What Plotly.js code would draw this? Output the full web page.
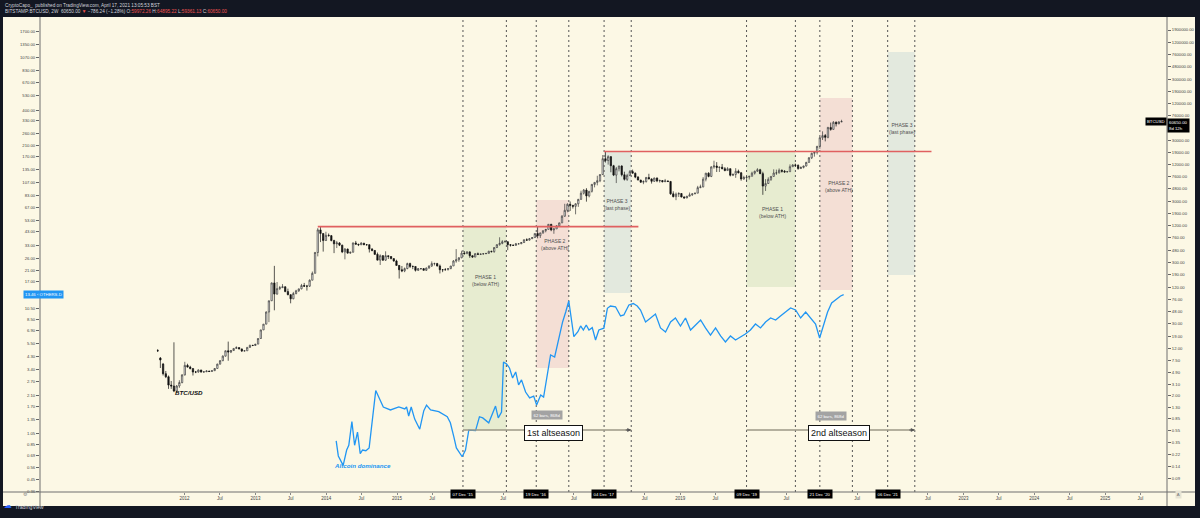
<!DOCTYPE html>
<html><head><meta charset="utf-8">
<script src="https://cdn.plot.ly/plotly-3.0.1.min.js"></script>
<style>html,body{margin:0;padding:0;background:#131722;}#chart{width:1200px;height:518px;}</style>
</head><body><div id="chart"></div>
<script>
// ---- BTC/USD 2W candles (Bitstamp) ----
const barDates = [
'2011-08-15','2011-08-29','2011-09-12','2011-09-26','2011-10-10','2011-10-24','2011-11-07','2011-11-21','2011-12-05','2011-12-19',
'2012-01-02','2012-01-16','2012-01-30','2012-02-13','2012-02-27','2012-03-12','2012-03-26','2012-04-09','2012-04-23','2012-05-07','2012-05-21','2012-06-04','2012-06-18','2012-07-02','2012-07-16','2012-07-30','2012-08-13','2012-08-27','2012-09-10','2012-09-24','2012-10-08','2012-10-22','2012-11-05','2012-11-19','2012-12-03','2012-12-17','2012-12-31',
'2013-01-14','2013-01-28','2013-02-11','2013-02-25','2013-03-11','2013-03-25','2013-04-08','2013-04-22','2013-05-06','2013-05-20','2013-06-03','2013-06-17','2013-07-01','2013-07-15','2013-07-29','2013-08-12','2013-08-26','2013-09-09','2013-09-23','2013-10-07','2013-10-21','2013-11-04','2013-11-18','2013-12-02','2013-12-16','2013-12-30',
'2014-01-13','2014-01-27','2014-02-10','2014-02-24','2014-03-10','2014-03-24','2014-04-07','2014-04-21','2014-05-05','2014-05-19','2014-06-02','2014-06-16','2014-06-30','2014-07-14','2014-07-28','2014-08-11','2014-08-25','2014-09-08','2014-09-22','2014-10-06','2014-10-20','2014-11-03','2014-11-17','2014-12-01','2014-12-15','2014-12-29',
'2015-01-12','2015-01-26','2015-02-09','2015-02-23','2015-03-09','2015-03-23','2015-04-06','2015-04-20','2015-05-04','2015-05-18','2015-06-01','2015-06-15','2015-06-29','2015-07-13','2015-07-27','2015-08-10','2015-08-24','2015-09-07','2015-09-21','2015-10-05','2015-10-19','2015-11-02','2015-11-16','2015-11-30','2015-12-14','2015-12-28',
'2016-01-11','2016-01-25','2016-02-08','2016-02-22','2016-03-07','2016-03-21','2016-04-04','2016-04-18','2016-05-02','2016-05-16','2016-05-30','2016-06-13','2016-06-27','2016-07-11','2016-07-25','2016-08-08','2016-08-22','2016-09-05','2016-09-19','2016-10-03','2016-10-17','2016-10-31','2016-11-14','2016-11-28','2016-12-12','2016-12-26',
'2017-01-09','2017-01-23','2017-02-06','2017-02-20','2017-03-06','2017-03-20','2017-04-03','2017-04-17','2017-05-01','2017-05-15','2017-05-29','2017-06-12','2017-06-26','2017-07-10','2017-07-24','2017-08-07','2017-08-21','2017-09-04','2017-09-18','2017-10-02','2017-10-16','2017-10-30','2017-11-13','2017-11-27','2017-12-11','2017-12-25',
'2018-01-08','2018-01-22','2018-02-05','2018-02-19','2018-03-05','2018-03-19','2018-04-02','2018-04-16','2018-04-30','2018-05-14','2018-05-28','2018-06-11','2018-06-25','2018-07-09','2018-07-23','2018-08-06','2018-08-20','2018-09-03','2018-09-17','2018-10-01','2018-10-15','2018-10-29','2018-11-12','2018-11-26','2018-12-10','2018-12-24',
'2019-01-07','2019-01-21','2019-02-04','2019-02-18','2019-03-04','2019-03-18','2019-04-01','2019-04-15','2019-04-29','2019-05-13','2019-05-27','2019-06-10','2019-06-24','2019-07-08','2019-07-22','2019-08-05','2019-08-19','2019-09-02','2019-09-16','2019-09-30','2019-10-14','2019-10-28','2019-11-11','2019-11-25','2019-12-09','2019-12-23',
'2020-01-06','2020-01-20','2020-02-03','2020-02-17','2020-03-02','2020-03-16','2020-03-30','2020-04-13','2020-04-27','2020-05-11','2020-05-25','2020-06-08','2020-06-22','2020-07-06','2020-07-20','2020-08-03','2020-08-17','2020-08-31','2020-09-14','2020-09-28','2020-10-12','2020-10-26','2020-11-09','2020-11-23','2020-12-07','2020-12-21',
'2021-01-04','2021-01-18','2021-02-01','2021-02-15','2021-03-01','2021-03-15','2021-03-29','2021-04-12'];

const btcOpen = [
11.0,8.3,6.6,4.6,4.1,3.0,2.9,2.4,2.9,3.3,
4.4,6.3,5.9,5.6,4.9,4.9,5.3,4.9,4.95,5.1,
5.0,5.15,5.6,6.6,7.5,8.9,10.9,10.4,11.0,11.9,
12.3,11.7,10.8,10.9,12.4,13.4,13.3,14.0,17.3,23.9,
29.7,46.9,71.5,140,92,113,117,121,101,90,
77,94,104,112,127,124,124,155,201,440,
1030,900,690,840,830,690,610,630,580,450,
500,430,445,630,600,590,625,590,590,500,
475,410,330,390,330,390,378,350,320,270,
230,220,240,290,260,260,225,240,240,225,
245,265,290,290,265,230,230,230,240,265,
320,335,360,430,420,450,390,370,420,410,
415,420,425,460,455,530,590,620,660,660,
590,580,575,610,610,640,710,700,740,770,
900,830,920,1000,1050,1270,1030,1070,1200,1340,
1720,2150,2700,2600,2500,2750,3250,4100,4600,3700,
4400,5700,6150,6550,8250,15000,14000,16200,11500,8100,
10300,11400,8200,6900,8000,9250,8700,7500,6700,6200,
6350,7400,7000,6400,7250,6500,6600,6300,6500,6350,
4000,3600,3950,4050,3550,3420,3650,3850,4000,4100,
5050,5200,6950,8700,7700,11000,11400,10800,10900,10300,
9600,10300,8050,8300,9350,8800,7000,7400,7500,7750,
8700,9350,9900,8550,5350,5900,6900,7700,8750,8800,
9700,9350,9100,9200,11100,11850,11700,10350,10800,11400,
13050,15500,18400,19150,23900,33000,35800,33500,48600,45200,
59000,55800,59972.26];

const btcHigh = [
11.6,8.6,6.9,5.1,4.3,3.5,15.0,3.0,3.6,4.5,
7.2,6.7,6.2,5.6,5.1,5.4,5.3,5.0,5.2,5.1,
5.2,5.7,6.7,7.7,9.2,11.0,15.4,11.2,12.0,12.9,
12.4,11.8,11.1,12.5,13.7,13.6,14.1,17.5,24.0,29.8,
48.0,72.0,142,266,145,125,134,123,113,91,
100,108,113,135,140,130,160,215,450,1100,
1163,900,960,900,850,710,680,650,590,520,
510,450,640,680,610,650,630,600,595,520,
480,440,410,400,460,390,385,350,335,275,
265,250,300,300,270,260,245,245,242,250,
270,315,300,298,280,235,245,245,265,330,
500,370,470,465,460,460,395,430,440,420,
425,430,470,470,540,600,780,700,700,665,
600,590,630,615,650,720,750,760,780,900,
1150,920,1010,1060,1280,1290,1080,1230,1350,1800,
2750,2800,3000,2600,2800,3300,4500,4800,4950,4400,
5800,6200,7900,8400,17200,19666,17100,16500,11900,11000,
11500,11700,9200,8500,9750,9950,8900,7800,6800,6650,
7550,8500,7150,7350,7400,6850,6700,7000,6600,6500,
4400,4200,4250,4100,3650,3700,4200,4000,4150,5400,
5650,7500,8800,9000,11300,13900,13200,11100,12300,10950,
10900,10350,8600,10500,9950,9100,7900,7750,7800,9200,
9550,10500,10250,9200,6950,7450,7800,10050,9950,10400,
10000,9800,9450,12100,12150,12450,12100,11200,11500,13300,
15950,18800,19900,24200,34000,42000,38000,49700,58350,61800,
61000,61200,64895.22];

const btcLow = [
10.4,5.7,4.3,3.9,2.6,2.6,2.3,2.2,2.7,3.2,
4.3,5.8,5.4,4.3,4.7,4.8,4.8,4.8,4.9,4.9,
5.0,5.1,5.6,6.5,7.4,8.8,7.5,10.0,10.9,11.8,
11.5,10.4,10.7,10.9,12.2,13.0,13.2,14.0,17.2,23.8,
29.5,32.0,71,50,90,107,116,99,88,65,
76,91,100,110,120,105,120,155,201,380,
650,455,680,800,670,430,520,560,430,340,
420,420,440,600,560,580,580,570,440,460,
400,330,275,320,320,345,340,310,270,165,
210,210,235,245,235,215,220,230,225,220,
240,255,270,260,200,210,225,225,235,265,
300,310,355,410,420,360,360,370,400,400,
410,415,425,440,435,520,570,600,650,480,
550,570,570,595,605,630,690,690,730,765,
750,760,890,940,1050,980,890,1070,1180,1340,
1700,2000,2100,2300,1850,2450,3200,3900,2980,3500,
4200,5100,5500,6200,8200,13000,12000,9000,7800,6000,
9300,7700,6600,6500,7800,8600,7200,6700,6050,5750,
6100,6900,5880,6300,6200,6100,6150,6250,6250,3850,
3500,3150,3550,3500,3350,3400,3650,3700,3950,4100,
4950,5100,6400,7450,7500,10300,9100,9100,10050,9350,
9600,7700,7800,7300,8650,6550,6800,6430,6850,7700,
8250,9150,8400,3850,4450,5850,6500,7650,8150,8600,
8900,8850,9050,9150,11100,11150,9900,10200,10400,11200,
12900,14800,16200,17600,21800,30300,28800,32300,43000,45000,
50400,54900,59361.13];

const btcClose = [
10.9,7.7,4.6,4.1,3.0,2.9,2.4,2.9,3.3,4.4,
6.3,5.9,5.6,4.9,4.9,5.3,4.9,4.95,5.1,5.0,
5.15,5.6,6.6,7.5,8.9,10.9,10.4,11.0,11.9,12.3,
11.7,10.8,10.9,12.4,13.4,13.3,14.0,17.3,23.9,29.7,
46.9,71.5,140,92,113,117,121,101,90,77,
94,104,112,127,124,124,155,201,440,1030,
900,690,840,830,690,610,630,580,450,500,
430,445,630,600,590,625,590,590,500,475,
410,330,390,330,390,378,350,320,270,230,
220,240,290,260,260,225,240,240,225,245,
265,290,290,265,230,230,230,240,265,320,
335,360,430,420,450,390,370,420,410,415,
420,425,460,455,530,590,620,660,660,590,
580,575,610,610,640,710,700,740,770,900,
830,920,1000,1050,1270,1030,1070,1200,1340,1720,
2150,2700,2600,2500,2750,3250,4100,4600,3700,4400,
5700,6150,6550,8250,15000,14000,16200,11500,8100,10300,
11400,8200,6900,8000,9250,8700,7500,6700,6200,6350,
7400,7000,6400,7250,6500,6600,6300,6500,6350,4000,
3600,3950,4050,3550,3420,3650,3850,4000,4100,5050,
5200,6950,8700,7700,11000,11400,10800,10900,10300,9600,
10300,8050,8300,9350,8800,7000,7400,7500,7750,8700,
9350,9900,8550,5350,5900,6900,7700,8750,8800,9700,
9350,9100,9200,11100,11850,11700,10350,10800,11400,13050,
15500,18400,19150,23900,33000,35800,33500,48600,45200,59000,
55800,59800,60650];

// ---- Altcoin dominance (OTHERS.D), left axis ----
const altYears = [
2014.142,2014.170,2014.241,2014.288,2014.320,2014.362,2014.401,2014.443,2014.481,2014.514,
2014.560,2014.608,2014.701,2014.744,2014.806,2014.909,2015.026,2015.111,2015.135,2015.167,
2015.201,2015.252,2015.323,2015.379,2015.417,2015.474,2015.591,2015.710,2015.756,2015.803,
2015.841,2015.922,2015.968,2016.015,2016.110,2016.166,2016.213,2016.297,2016.392,2016.430,
2016.477,2016.505,2016.547,2016.590,2016.632,2016.675,2016.717,2016.759,2016.816,2016.872,
2016.929,2016.971,2017.028,2017.070,2017.127,2017.169,2017.225,2017.282,2017.338,2017.381,
2017.427,2017.498,2017.554,2017.593,2017.631,2017.673,2017.710,2017.758,2017.804,2017.851,
2017.922,2017.970,2018.016,2018.087,2018.158,2018.204,2018.275,2018.337,2018.393,2018.440,
2018.511,2018.581,2018.652,2018.723,2018.793,2018.864,2018.934,2019.005,2019.076,2019.146,
2019.217,2019.288,2019.358,2019.429,2019.499,2019.570,2019.641,2019.711,2019.782,2019.852,
2019.923,2019.994,2020.064,2020.135,2020.206,2020.276,2020.347,2020.417,2020.488,2020.559,
2020.629,2020.700,2020.771,2020.841,2020.912,2020.968,2021.025,2021.081,2021.138,2021.208,
2021.265,2021.307];
const altValues = [
0.91,0.69,0.58,0.77,0.84,1.30,0.84,1.07,0.72,0.77,
0.76,0.80,2.30,2.01,1.70,1.61,1.70,1.64,1.70,1.44,
1.70,1.36,1.13,1.59,1.76,1.61,1.56,1.42,1.27,0.98,
0.80,0.68,0.77,1.11,1.10,1.42,1.39,1.27,1.73,1.39,
1.55,3.89,3.75,3.49,2.90,3.24,2.55,2.80,2.24,2.01,
2.08,1.76,2.12,2.04,3.36,4.43,4.27,5.84,8.14,9.78,
11.98,6.21,6.81,7.56,7.02,7.70,7.02,7.33,5.84,7.02,
7.26,10.47,10.92,10.77,9.09,9.26,11.13,11.43,10.92,10.15,
8.14,8.76,9.43,7.29,6.77,8.14,8.76,7.56,8.76,7.02,
7.70,8.44,7.29,6.40,7.29,6.29,5.63,6.29,5.84,6.17,
6.52,7.02,7.84,7.29,8.14,8.76,8.44,9.09,9.78,10.53,
10.15,8.76,9.78,8.76,7.84,6.06,7.70,9.78,11.55,12.43,
13.13,13.46];

// ---- axis ticks ----
const btcTickVals = [0.09,0.14,0.22,0.35,0.55,0.85,1.3,2,3.1,4.9,7.5,12,19,30,48,76,120,190,300,480,760,1200,1900,3000,4800,7600,12000,19000,30000,76000,120000,190000,300000,480000,760000,1200000,1900000];
const altTickVals = [0.36,0.45,0.56,0.69,0.85,1.05,1.35,1.7,2.1,2.7,3.4,4.3,5.5,6.9,8.5,10.5,17,21,26,33,43,53,67,83,107,135,170,210,260,330,400,530,670,830,1070,1350,1700,2250];
const xTickDates = ['2012-01-01','2012-07-01','2013-01-01','2013-07-01','2014-01-01','2014-07-01','2015-01-01','2015-07-01','2016-07-01','2017-07-01','2018-07-01','2019-01-01','2019-07-01','2020-07-01','2021-07-01','2022-07-01','2023-01-01','2023-07-01','2024-01-01','2024-07-01','2025-01-01','2025-07-01'];
const xTickLabels = ['2012','Jul','2013','Jul','2014','Jul','2015','Jul','Jul','Jul','Jul','2019','Jul','Jul','Jul','Jul','2023','Jul','2024','Jul','2025','Jul'];
const markedDates = ['2015-12-07','2016-12-19','2017-12-04','2019-12-09','2020-12-21','2021-12-06'];
const markedLabels = ["07 Dec '15","19 Dec '16","04 Dec '17","09 Dec '19","21 Dec '20","06 Dec '21"];
const lineDates = ['2015-12-07','2016-07-18','2016-12-19','2017-06-05','2017-12-04','2018-04-23','2019-12-09','2020-08-17','2020-12-21','2021-06-07','2021-12-06','2022-04-25'];
const athLevels = [1163, 19666];

function yearToISO(y){const yr=Math.floor(y);const s=Date.UTC(yr,0,1),e=Date.UTC(yr+1,0,1);return new Date(s+(y-yr)*(e-s)).toISOString().slice(0,10);}
function pyP(p){return (492-p)/475;}   // pixel y -> paper
function pxP(p){return (p-40)/1127;}   // pixel x -> paper

const FONT = 'Liberation Sans, Arial, sans-serif';
const cream = '#fcf8e5';

const traces = [
 {type:'candlestick', x:barDates, open:btcOpen, high:btcHigh, low:btcLow, close:btcClose,
  xaxis:'x', yaxis:'y', line:{width:0.7},
  increasing:{line:{color:'#3a3a3a',width:0.7}, fillcolor:'#ffffff'},
  decreasing:{line:{color:'#111111',width:0.7}, fillcolor:'#111111'},
  whiskerwidth:0, hoverinfo:'skip'},
 {type:'scatter', mode:'lines', x:altYears.map(yearToISO), y:altValues, xaxis:'x', yaxis:'y2',
  line:{color:'#2196f3', width:1.3}, hoverinfo:'skip'}
];

const shapes = [];
// cream chart panel incl. axis strips
shapes.push({type:'rect', xref:'paper', yref:'paper', x0:pxP(3), x1:pxP(1195), y0:pyP(506), y1:1, fillcolor:cream, line:{width:0}, layer:'below'});
// phase boxes
const boxes = [
 ['2015-12-07','2016-07-18',226,430,'#e7ecd0'],
 ['2016-12-19','2017-06-05',200,368,'#f4dfd5'],
 ['2017-12-04','2018-04-23',152,293,'#e3e9de'],
 ['2019-12-09','2020-08-17',152,287,'#e7ecd0'],
 ['2020-12-21','2021-06-07',98,290,'#f4dfd5'],
 ['2021-12-06','2022-04-25',52,275,'#e3e9de']];
boxes.forEach(b=>shapes.push({type:'rect', xref:'x', yref:'paper', x0:b[0], x1:b[1], y0:pyP(b[3]), y1:pyP(b[2]), fillcolor:b[4], line:{width:0}, layer:'below'}));
// dashed vertical lines
lineDates.forEach(d=>shapes.push({type:'line', xref:'x', yref:'paper', x0:d, x1:d, y0:0, y1:1, line:{color:'#555555', width:1, dash:'2px,3px'}, layer:'below'}));
// ATH red lines (data units on the price axis)
shapes.push({type:'line', xref:'x', yref:'y', x0:'2013-11-18', x1:'2018-05-30', y0:athLevels[0], y1:athLevels[0], line:{color:'#e06060', width:1.6}});
shapes.push({type:'line', xref:'x', yref:'y', x0:'2017-12-04', x1:'2022-07-20', y0:athLevels[1], y1:athLevels[1], line:{color:'#e06060', width:1.6}});
// altseason measure lines
shapes.push({type:'line', xref:'x', yref:'paper', x0:'2015-12-07', x1:'2018-04-23', y0:pyP(430), y1:pyP(430), line:{color:'#9c9886', width:1.4}});
shapes.push({type:'line', xref:'x', yref:'paper', x0:'2019-12-09', x1:'2022-04-25', y0:pyP(430), y1:pyP(430), line:{color:'#9c9886', width:1.4}});
// frame lines
shapes.push({type:'line', xref:'paper', yref:'paper', x0:pxP(3), x1:pxP(1195), y0:0, y1:0, line:{color:'#6f6f6f', width:1}});
shapes.push({type:'line', xref:'paper', yref:'paper', x0:0, x1:0, y0:pyP(506), y1:1, line:{color:'#6f6f6f', width:1}});
shapes.push({type:'line', xref:'paper', yref:'paper', x0:1, x1:1, y0:pyP(506), y1:1, line:{color:'#6f6f6f', width:1}});

const ann = [];
const red = '#ef5350';
ann.push({xref:'paper', yref:'paper', x:pxP(3), y:pyP(5.5), xanchor:'left', yanchor:'middle', showarrow:false,
  text:'CryptoCapo_  published on TradingView.com, April 17, 2021 13:05:53 BST', font:{family:FONT, size:4.7, color:'#d1d4dc'}});
ann.push({xref:'paper', yref:'paper', x:pxP(3), y:pyP(11.7), xanchor:'left', yanchor:'middle', showarrow:false,
  text:'BITSTAMP:BTCUSD, 2W  60650.00 <span style="color:'+red+'">▼</span> −786.24 (−1.28%) O:<span style="color:'+red+'">59972.26</span> H:<span style="color:'+red+'">64895.22</span> L:<span style="color:'+red+'">59361.13</span> C:<span style="color:'+red+'">60650.00</span>',
  font:{family:FONT, size:4.7, color:'#d1d4dc'}});
// phase labels
const phaseText = [
 ['2016-04-01',280,'PHASE 1<br>(below ATH)'],
 ['2017-03-28',244.5,'PHASE 2<br>(above ATH)'],
 ['2018-02-11',204.5,'PHASE 3<br>(last phase)'],
 ['2020-04-21',212.5,'PHASE 1<br>(below ATH)'],
 ['2021-03-28',186,'PHASE 2<br>(above ATH)'],
 ['2022-02-20',119.5,'PHASE 3<br>(last phase)']];
phaseText.forEach(p=>ann.push({xref:'x', yref:'paper', x:p[0], y:pyP(p[1]), showarrow:false, text:p[2], font:{family:FONT, size:5, color:'#505050'}}));
// altseason labels
ann.push({xref:'x', yref:'paper', x:'2017-03-16', y:pyP(441), showarrow:false, text:'1st altseason', font:{family:FONT, size:9, color:'#111'}, bgcolor:'#ffffff', bordercolor:'#111', borderwidth:1, borderpad:2});
ann.push({xref:'x', yref:'paper', x:'2021-03-28', y:pyP(441), showarrow:false, text:'2nd altseason', font:{family:FONT, size:9, color:'#111'}, bgcolor:'#ffffff', bordercolor:'#111', borderwidth:1, borderpad:2});
ann.push({xref:'x', yref:'paper', x:'2017-02-13', y:pyP(419.5), showarrow:false, text:'62 bars, 868d', font:{family:FONT, size:4.3, color:'#ffffff'}, bgcolor:'#a3a3a3', borderpad:1.5});
ann.push({xref:'x', yref:'paper', x:'2021-02-15', y:pyP(421), showarrow:false, text:'62 bars, 868d', font:{family:FONT, size:4.3, color:'#ffffff'}, bgcolor:'#a3a3a3', borderpad:1.5});
['2018-04-23','2022-04-25'].forEach(d=>ann.push({xref:'x', yref:'paper', x:d, y:pyP(430), ax:-7, ay:0, showarrow:true, arrowhead:2, arrowsize:0.8, arrowwidth:1, arrowcolor:'#555', text:''}));
// series labels
ann.push({xref:'paper', yref:'paper', x:pxP(173.3), y:pyP(397.7), showarrow:false, text:'<b><i>BTC/USD</i></b>', font:{family:FONT, size:6.2, color:'#111'}});
ann.push({xref:'paper', yref:'paper', x:pxP(331.7), y:pyP(471.3), showarrow:false, text:'<b><i>Altcoin dominance</i></b>', font:{family:FONT, size:6.2, color:'#2196f3'}});
// price labels
ann.push({xref:'paper', yref:'y', x:1, y:Math.log10(60650), xanchor:'right', showarrow:false, text:'BTCUSD', font:{family:FONT, size:4.3, color:'#fff'}, bgcolor:'#000', borderpad:1});
ann.push({xref:'paper', yref:'paper', x:1, y:pyP(117.5), xanchor:'left', yanchor:'top', align:'left', showarrow:false, text:'60650.00<br>8d 12h', font:{family:FONT, size:4.3, color:'#fff'}, bgcolor:'#000', borderpad:1});
ann.push({xref:'paper', yref:'paper', x:pxP(23), y:pyP(294), xanchor:'left', showarrow:false, text:'13.46 ‹ OTHERS.D', font:{family:FONT, size:4.3, color:'#fff'}, bgcolor:'#2196f3', borderpad:1});
// boxed date labels
markedDates.forEach((d,i)=>ann.push({xref:'x', yref:'paper', x:d, y:pyP(498.5), showarrow:false, text:markedLabels[i], font:{family:FONT, size:4.3, color:'#fff'}, bgcolor:'#000', borderpad:1.5}));
// corner icons + logo
ann.push({xref:'paper', yref:'paper', x:pxP(1182), y:pyP(499), showarrow:false, text:'A', font:{family:FONT, size:4.3, color:'#777'}, bgcolor:'#e6e3d3', borderpad:0.8});
ann.push({xref:'paper', yref:'paper', x:pxP(21), y:pyP(499), showarrow:false, text:'⚙', font:{family:'DejaVu Sans', size:5, color:'#888'}});
ann.push({xref:'paper', yref:'paper', x:pxP(2), y:pyP(512), xanchor:'left', showarrow:false, text:'☁', font:{family:'DejaVu Sans', size:8, color:'#2962ff'}});
ann.push({xref:'paper', yref:'paper', x:pxP(13), y:pyP(512), xanchor:'left', showarrow:false, text:'TradingView', font:{family:FONT, size:5.2, color:'#d1d4dc'}});

const layout = {
 width:1200, height:518, autosize:false,
 margin:{l:40, r:33, t:17, b:26, pad:0},
 paper_bgcolor:'#131722', plot_bgcolor:cream,
 showlegend:false, hovermode:false,
 font:{family:FONT, size:4.5, color:'#444'},
 xaxis:{type:'date', range:['2009-12-16','2025-11-16'], showgrid:false, zeroline:false, showline:false,
   rangeslider:{visible:false}, tickmode:'array', tickvals:xTickDates, ticktext:xTickLabels,
   ticks:'outside', ticklen:2, tickcolor:'#888', tickfont:{family:FONT, size:4.5, color:'#444'}},
 yaxis:{type:'log', side:'right', range:[-1.270, 6.4914], showgrid:false, zeroline:false, showline:false,
   tickmode:'array', tickvals:btcTickVals, ticktext:btcTickVals.map(v=>v.toFixed(2)),
   ticks:'outside', ticklen:3, tickcolor:'#666', tickfont:{family:FONT, size:4.2, color:'#444'}},
 yaxis2:{type:'log', side:'left', overlaying:'y', range:[-0.4496, 3.3504], showgrid:false, zeroline:false, showline:false,
   tickmode:'array', tickvals:altTickVals, ticktext:altTickVals.map(v=>v.toFixed(2)),
   ticks:'outside', ticklen:3, tickcolor:'#666', tickfont:{family:FONT, size:4.2, color:'#444'}},
 shapes:shapes, annotations:ann
};

Plotly.newPlot('chart', traces, layout, {staticPlot:true, displayModeBar:false});
</script></body></html>
